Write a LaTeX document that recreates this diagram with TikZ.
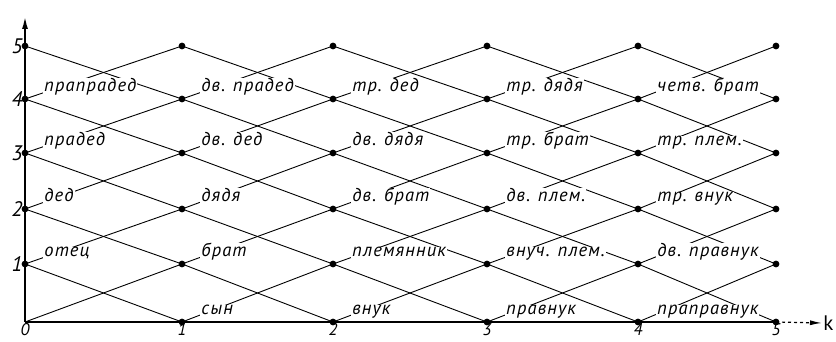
\documentclass[tikz,border=0pt]{standalone}
\usepackage{fontspec}
\setmainfont{PT Sans}
\newfontfamily\relfont[LetterSpace=6]{PT Sans}
\usetikzlibrary{arrows.meta}

\begin{document}
\begin{tikzpicture}[x=1pt,y=1pt,line width=0.9pt,
  rel/.style={fill=white,inner sep=1pt,anchor=base west,xshift=18pt,yshift=7pt,
    font=\relfont\itshape\fontsize{18.5}{18.5}\selectfont},
  num/.style={font=\itshape\fontsize{21}{21}\selectfont,inner sep=2pt}]
\useasboundingbox (0,0) rectangle (836,342);
\foreach \k/\x in {0/25,1/182,2/333,3/487,4/638,5/776}
  \foreach \n/\y in {0/20,1/78,2/133,3/189,4/243,5/296}
    \coordinate (P\k\n) at (\x,\y);
\coordinate (ytip) at (25,326);
\coordinate (xtip) at (822,19);
\foreach \k in {0,...,4}
  \foreach \n in {0,...,4} {
    \pgfmathtruncatemacro\ka{\k+1}
    \pgfmathtruncatemacro\na{\n+1}
    \draw (P\k\n) -- (P\ka\na);
    \draw (P\k\na) -- (P\ka\n);
  }
\foreach \k/\n/\lbl in {0/1/отец,0/2/дед,0/3/прадед,0/4/прапрадед,
    1/0/сын,1/1/брат,1/2/дядя,1/3/дв. дед,1/4/дв. прадед,
    2/0/внук,2/1/племянник,2/2/дв. брат,2/3/дв. дядя,2/4/тр. дед,
    3/0/правнук,3/1/внуч. плем.,3/2/дв. плем.,3/3/тр. брат,3/4/тр. дядя,
    4/0/праправнук,4/1/дв. правнук,4/2/тр. внук,4/3/тр. плем.,4/4/четв. брат}
  \node[rel] (L\k\n) at (P\k\n) {\lbl};
\draw[line width=2pt,-{Latex[length=13pt,width=6pt]}] (P00) -- (ytip);
\draw[line width=2pt] (P00) -- (P50);
\draw[line width=1.2pt,dashed,-{Latex[length=12pt,width=5pt]}] (P50) -- (xtip);
\foreach \k in {0,...,5}
  \foreach \n in {0,...,5}
    {\ifnum\k\n>0 \fill (P\k\n) circle (3.4);\fi}
\foreach \n in {1,...,5}
  \node[num,left] (N\n) at (P0\n) {\n};
\foreach \k in {0,...,5}
  \node[num,below,inner sep=1pt,font=\itshape\fontsize{17}{17}\selectfont] (K\k) at (P\k0) {\k};
\node[right,inner sep=1pt,font=\fontsize{21}{21}\selectfont] (k) at (xtip) {k};
\end{tikzpicture}
\end{document}
